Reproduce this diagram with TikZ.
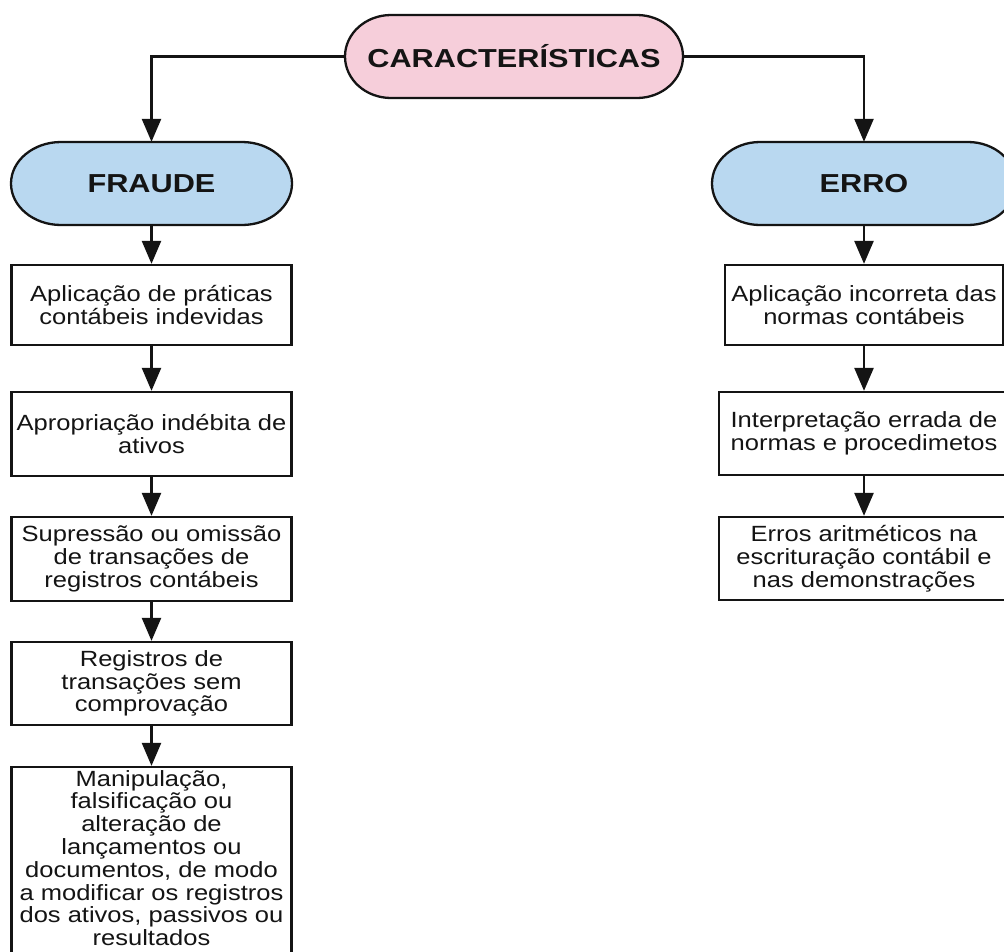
\documentclass[tikz,border=0pt]{standalone}
\usepackage{fontspec}
\setmainfont{Liberation Sans}
\newfontfamily\bodyf{Liberation Sans}[FakeStretch=1.16]
\newfontfamily\headf{Liberation Sans}[FakeStretch=1.18]
\usetikzlibrary{arrows.meta}
\definecolor{pinkfill}{RGB}{246,206,218}
\definecolor{bluefill}{RGB}{185,216,240}
\definecolor{inkc}{RGB}{20,20,20}
\newcommand\stadshape[7]{%
  \draw[shapeln, fill=#7] (#1+#5,#2) -- (#3-#5,#2)
    arc[start angle=90,end angle=-90,x radius=#5pt,y radius=#6pt]
    -- (#1+#5,#4)
    arc[start angle=270,end angle=90,x radius=#5pt,y radius=#6pt] -- cycle;}
\begin{document}
\begin{tikzpicture}[x=1pt,y=-1pt,
  box/.style={draw=inkc, line width=2.3pt, align=center, inner sep=0pt, text=inkc,
    font=\bodyf\fontsize{22}{22.8}\selectfont},
  head/.style={inner sep=0pt, text=inkc, font=\headf\bfseries\fontsize{26}{28}\selectfont},
  arr/.style={draw=inkc, line width=2.5pt, -{Triangle[width=19pt,length=23pt]}},
  shapeln/.style={draw=inkc, line width=2.3pt}]
\useasboundingbox (0,0) rectangle (1004,951);
\clip (0,0) rectangle (1004,951);
\fill[white] (0,0) rectangle (1004,951);
% stadium backgrounds
\stadshape{345}{15}{683}{98}{46}{41.5}{pinkfill}
\stadshape{11}{142}{292}{225}{50}{41.5}{bluefill}
\stadshape{712}{142}{1016}{225}{48}{41.5}{bluefill}
% heading nodes
\node[head, minimum width=338pt, minimum height=83pt] (car) at (514,56.5) {CARACTERÍSTICAS};
\node[head, minimum width=281pt, minimum height=83pt] (fra) at (151.5,183.5) {FRAUDE};
\node[head, minimum width=304pt, minimum height=83pt] (err) at (864,183.5) {ERRO};
% left column
\node[box, minimum width=280pt, minimum height=80pt] (l1) at (151.5,305) {Aplicação de práticas\\contábeis indevidas};
\node[box, minimum width=280pt, minimum height=84pt] (l2) at (151.5,434) {Apropriação indébita de\\ativos};
\node[box, minimum width=280pt, minimum height=84pt] (l3) at (151.5,559) {Supressão ou omissão\\de transações de\\registros contábeis};
\node[box, minimum width=280pt, minimum height=83pt] (l4) at (151.5,683.5) {Registros de\\transações sem\\comprovação};
\node[box, minimum width=280pt, minimum height=204pt] (l5) at (151.5,869) {Manipulação,\\falsificação ou\\alteração de\\lançamentos ou\\documentos, de modo\\a modificar os registros\\dos ativos, passivos ou\\resultados\rule[-22pt]{0pt}{0pt}};
% right column
\node[box, minimum width=278pt, minimum height=80pt] (r1) at (864,305) {Aplicação incorreta das\\normas contábeis};
\node[box, minimum width=290pt, minimum height=83pt] (r2) at (864,433.5) {Interpretação errada de\\normas e procedimetos};
\node[box, minimum width=290pt, minimum height=83pt] (r3) at (864,558.5) {Erros aritméticos na\\escrituração contábil e\\nas demonstrações};
% connectors
\draw[arr] (car.west) -| (fra.north);
\draw[arr] (car.east) -| (err.north);
\draw[arr] (fra.south) -- (l1.north);
\draw[arr] (l1.south) -- (l2.north);
\draw[arr] (l2.south) -- (l3.north);
\draw[arr] (l3.south) -- (l4.north);
\draw[arr] (l4.south) -- (l5.north);
\draw[arr] (err.south) -- (r1.north);
\draw[arr] (r1.south) -- (r2.north);
\draw[arr] (r2.south) -- (r3.north);
\end{tikzpicture}
\end{document}
